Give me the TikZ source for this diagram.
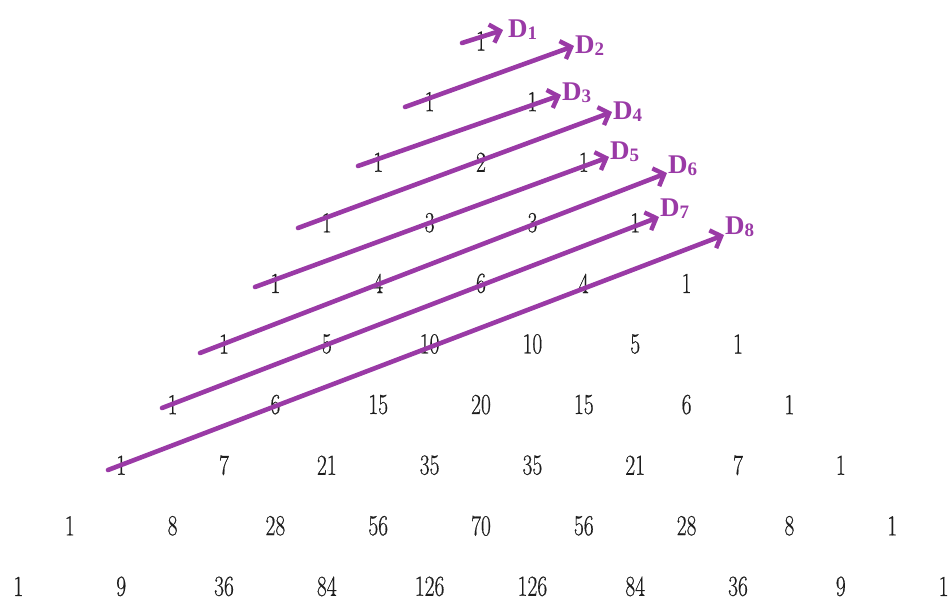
\documentclass[tikz,border=0pt]{standalone}
\usepackage{fontspec}
\usepackage{graphicx}
\usetikzlibrary{arrows.meta}
\newfontfamily\dfont{Liberation Serif}
\newfontfamily\numfont{Latin Modern Roman}[FakeBold=0.6]
\definecolor{dpurple}{HTML}{9A3AA6}
\definecolor{numcol}{HTML}{1E1E1E}
\newcommand{\pnum}[1]{\scalebox{0.74}[1]{\numfont\fontsize{29}{30}\selectfont #1}}
\newcommand{\dlabel}[1]{{\dfont\bfseries\fontsize{27}{28}\selectfont D\raisebox{-2pt}{\fontsize{19}{19}\selectfont #1}}}
\tikzset{
  numnode/.style={inner sep=0pt, text=numcol},
  dnode/.style={inner sep=1pt, anchor=west, text=dpurple},
  darrow/.style={draw=dpurple, line width=4.6pt, line cap=round,
     -{Straight Barb[length=9pt,width=19pt,line width=4.4pt]}}
}
\begin{document}
\begin{tikzpicture}[x=1pt,y=-1pt]
\useasboundingbox (0,0) rectangle (949,601);
\def\rowvals{{1},{1,1},{1,2,1},{1,3,3,1},{1,4,6,4,1},{1,5,10,10,5,1},{1,6,15,20,15,6,1},{1,7,21,35,35,21,7,1},{1,8,28,56,70,56,28,8,1},{1,9,36,84,126,126,84,36,9,1}}
\foreach \vals [count=\rr from 0] in \rowvals {
  \foreach \v [count=\k from 0] in \vals {
    \node[numnode] (n-\rr-\k) at ({481+51.4*(2*\k-\rr)}, {41+60.6*\rr}) {\pnum{\v}};
  }
}
% start points of diagonals
\coordinate (s1) at (462,43);
\coordinate (s2) at (405,107);
\coordinate (s3) at (358,166);
\coordinate (s4) at (298,228);
\coordinate (s5) at (255,287);
\coordinate (s6) at (200,353);
\coordinate (s7) at (162,408);
\coordinate (s8) at (108,470);
% labels
\node[dnode] (D1) at (507,30) {\dlabel{1}};
\node[dnode] (D2) at (574,46) {\dlabel{2}};
\node[dnode] (D3) at (561,93) {\dlabel{3}};
\node[dnode] (D4) at (612,112) {\dlabel{4}};
\node[dnode] (D5) at (609,152) {\dlabel{5}};
\node[dnode] (D6) at (667,166) {\dlabel{6}};
\node[dnode] (D7) at (659,209) {\dlabel{7}};
\node[dnode] (D8) at (724,227) {\dlabel{8}};
% arrows
\draw[darrow] (s1) -- ([xshift=-4pt]D1.west);
\draw[darrow] (s2) -- (D2.west);
\draw[darrow] (s3) -- ([yshift=-2pt]D3.west);
\draw[darrow] (s4) -- (D4.west);
\draw[darrow] (s5) -- ([yshift=-5pt]D5.west);
\draw[darrow] (s6) -- ([yshift=-7pt]D6.west);
\draw[darrow] (s7) -- ([yshift=-8pt]D7.west);
\draw[darrow] (s8) -- ([yshift=-8pt]D8.west);
\end{tikzpicture}
\end{document}
